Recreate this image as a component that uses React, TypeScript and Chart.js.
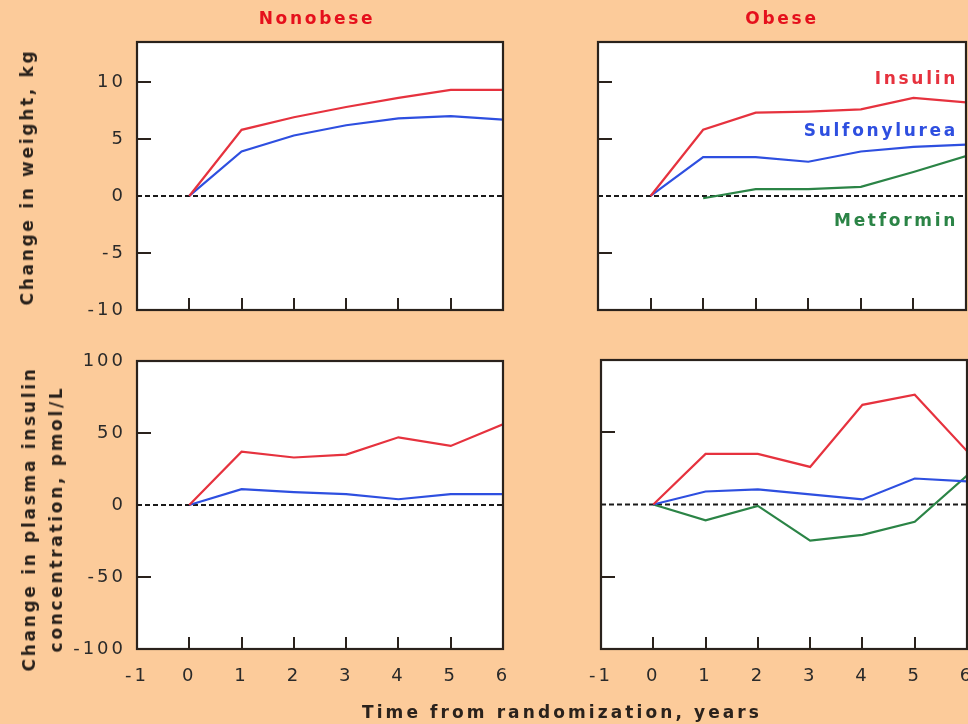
import React, { useEffect, useRef } from "react";
import { Chart, registerables } from "chart.js";
Chart.register(...registerables);

// ---- data ----
const years = [0, 1, 2, 3, 4, 5, 6];
const xTicks = [-1, 0, 1, 2, 3, 4, 5, 6];
const weightTicks = [-10, -5, 0, 5, 10];
const insulinTicks = [-100, -50, 0, 50, 100];

const nonobeseWeightInsulin = [0, 5.8, 6.9, 7.8, 8.6, 9.3, 9.3];
const nonobeseWeightSulfonylurea = [0, 3.9, 5.3, 6.2, 6.8, 7.0, 6.7];
const obeseWeightInsulin = [0, 5.8, 7.3, 7.4, 7.6, 8.6, 8.2];
const obeseWeightSulfonylurea = [0, 3.4, 3.4, 3.0, 3.9, 4.3, 4.5];
const obeseWeightMetformin = [null, -0.2, 0.6, 0.6, 0.8, 2.1, 3.5];

const nonobeseInsulinInsulin = [0, 37, 33, 35, 47, 41, 56];
const nonobeseInsulinSulfonylurea = [0, 11, 9, 7.5, 4, 7.5, 7.5];
const obeseInsulinInsulin = [0, 35, 35, 26, 69, 76, 37];
const obeseInsulinSulfonylurea = [0, 9, 10.5, 7, 3.5, 18, 16];
const obeseInsulinMetformin = [0, -11, -1, -25, -21, -12, 20];

// ---- styles ----
const W = 968;
const H = 724;
const BG = "#fccb9a";
const RED = "#e6323e";
const BLUE = "#2e4fe0";
const GREEN = "#2b8446";
const INK = "#2a221c";

type Panel = {
  area: [number, number, number, number]; // left, top, right, bottom
  yMin: number;
  yMax: number;
  yTicks: number[];
  showY: boolean;
  showX: boolean;
  series: { color: string; values: (number | null)[] }[];
};

const panels: Panel[] = [
  {
    area: [137, 42, 503, 310],
    yMin: -10,
    yMax: 13.5,
    yTicks: weightTicks,
    showY: true,
    showX: false,
    series: [
      { color: RED, values: nonobeseWeightInsulin },
      { color: BLUE, values: nonobeseWeightSulfonylurea },
    ],
  },
  {
    area: [598, 42, 966, 310],
    yMin: -10,
    yMax: 13.5,
    yTicks: weightTicks,
    showY: false,
    showX: false,
    series: [
      { color: RED, values: obeseWeightInsulin },
      { color: BLUE, values: obeseWeightSulfonylurea },
      { color: GREEN, values: obeseWeightMetformin },
    ],
  },
  {
    area: [137, 361, 503, 649],
    yMin: -100,
    yMax: 100,
    yTicks: insulinTicks,
    showY: true,
    showX: true,
    series: [
      { color: RED, values: nonobeseInsulinInsulin },
      { color: BLUE, values: nonobeseInsulinSulfonylurea },
    ],
  },
  {
    area: [601, 360, 967, 649],
    yMin: -100,
    yMax: 100,
    yTicks: insulinTicks,
    showY: false,
    showX: true,
    series: [
      { color: RED, values: obeseInsulinInsulin },
      { color: BLUE, values: obeseInsulinSulfonylurea },
      { color: GREEN, values: obeseInsulinMetformin },
    ],
  },
];

const panelPlugin = {
  id: "panelDecor",
  beforeDraw(chart: any) {
    const { ctx, chartArea: a } = chart;
    ctx.save();
    ctx.fillStyle = "#ffffff";
    ctx.fillRect(a.left, a.top, a.right - a.left, a.bottom - a.top);
    ctx.restore();
    (ctx as any).letterSpacing = "3px";
  },
  afterDraw(chart: any) {
    const { ctx, chartArea: a } = chart;
    const xs = chart.scales.x;
    const ys = chart.scales.y;
    ctx.save();
    (ctx as any).letterSpacing = "0px";
    ctx.strokeStyle = INK;
    ctx.lineWidth = 2;
    ctx.beginPath();
    ys.ticks.forEach((t: any) => {
      if (t.value === ys.min || t.value === ys.max || t.value === 0) return;
      const py = Math.round(ys.getPixelForValue(t.value));
      ctx.moveTo(a.left, py);
      ctx.lineTo(a.left + 14, py);
    });
    xs.ticks.forEach((t: any) => {
      if (t.value === xs.min) return;
      const px = Math.round(xs.getPixelForValue(t.value));
      ctx.moveTo(px, a.bottom);
      ctx.lineTo(px, a.bottom - 12);
    });
    ctx.stroke();
    ctx.lineWidth = 2.2;
    ctx.strokeRect(a.left, a.top, a.right - a.left, a.bottom - a.top);
    ctx.restore();
  },
};

function buildConfig(p: Panel): any {
  const [L, T, R, B] = p.area;
  const yW = p.showY ? 70 : 10;
  const xH = p.showX ? 40 : 10;
  const tickFont = { family: "'DejaVu Sans', sans-serif", size: 18 };
  const datasets: any[] = p.series.map((s) => ({
    data: years
      .map((x, i) => ({ x, y: s.values[i] }))
      .filter((d) => d.y !== null),
    borderColor: s.color,
    borderWidth: 2.2,
    pointRadius: 0,
    tension: 0,
    fill: false,
  }));
  datasets.push({
    data: [
      { x: xTicks[0], y: 0 },
      { x: xTicks[xTicks.length - 1], y: 0 },
    ],
    borderColor: "#1a1a1a",
    borderWidth: 2,
    borderDash: [5, 3],
    pointRadius: 0,
    fill: false,
  });
  const noEdgePad = (s: any) => {
    s.paddingLeft = 0;
    s.paddingRight = 0;
    s.paddingTop = 0;
    s.paddingBottom = 0;
  };
  return {
    type: "line",
    data: { datasets },
    options: {
      animation: false,
      responsive: false,
      maintainAspectRatio: false,
      events: [],
      layout: {
        padding: { left: L - yW, top: T, right: W - R, bottom: H - B - xH },
      },
      plugins: { legend: { display: false }, tooltip: { enabled: false } },
      scales: {
        x: {
          type: "linear",
          min: xTicks[0],
          max: xTicks[xTicks.length - 1],
          afterBuildTicks: (s: any) => {
            s.ticks = xTicks.map((v) => ({ value: v }));
          },
          afterFit: (s: any) => {
            s.height = xH;
            noEdgePad(s);
          },
          grid: { display: false, drawTicks: false },
          border: { display: false },
          ticks: {
            display: p.showX,
            font: tickFont,
            color: "#2a2a2a",
            padding: 17,
            autoSkip: false,
            maxRotation: 0,
          },
        },
        y: {
          type: "linear",
          min: p.yMin,
          max: p.yMax,
          afterBuildTicks: (s: any) => {
            s.ticks = p.yTicks.map((v) => ({ value: v }));
          },
          afterFit: (s: any) => {
            s.width = yW;
            noEdgePad(s);
          },
          grid: { display: false, drawTicks: false },
          border: { display: false },
          ticks: {
            display: p.showY,
            font: tickFont,
            color: "#2a2a2a",
            padding: 11,
          },
        },
      },
    },
    plugins: [panelPlugin],
  };
}

function PanelCanvas({ panel }: { panel: Panel }) {
  const ref = useRef<HTMLCanvasElement | null>(null);
  useEffect(() => {
    if (!ref.current) return;
    const chart = new Chart(ref.current, buildConfig(panel));
    return () => chart.destroy();
  }, [panel]);
  return (
    <canvas
      ref={ref}
      width={W}
      height={H}
      style={{ position: "absolute", left: 0, top: 0, width: W, height: H }}
    />
  );
}

const boldText: React.CSSProperties = {
  position: "absolute",
  fontFamily: "'DejaVu Sans', sans-serif",
  fontWeight: 700,
  fontSize: 17,
  letterSpacing: "2.7px",
  whiteSpace: "nowrap",
  lineHeight: "20px",
};

function Label({
  text,
  x,
  y,
  color,
  align = "center",
  rotate = false,
  extra = {},
}: {
  text: React.ReactNode;
  x: number;
  y: number;
  color: string;
  align?: "center" | "right";
  rotate?: boolean;
  extra?: React.CSSProperties;
}) {
  let transform = "translate(-50%, -50%)";
  if (align === "right") transform = "translate(-100%, -50%)";
  if (rotate) transform = "translate(-50%, -50%) rotate(-90deg)";
  return (
    <div style={{ ...boldText, left: x, top: y, color, transform, ...extra }}>
      {text}
    </div>
  );
}

export default function App() {
  return (
    <div
      style={{
        position: "absolute",
        left: 0,
        top: 0,
        width: W,
        height: H,
        background: BG,
        overflow: "hidden",
      }}
    >
      {panels.map((p, i) => (
        <PanelCanvas key={i} panel={p} />
      ))}
      <Label text="Nonobese" x={317} y={18} color="#e5101c" />
      <Label text="Obese" x={782} y={18} color="#e5101c" />
      <Label text="Insulin" x={958} y={78} color={RED} align="right" />
      <Label text="Sulfonylurea" x={958} y={130} color={BLUE} align="right" />
      <Label text="Metformin" x={958} y={220} color={GREEN} align="right" />
      <Label text="Change in weight, kg" x={27} y={177} color={INK} rotate />
      <Label
        text={
          <>
            Change in plasma insulin
            <br />
            concentration, pmol/L
          </>
        }
        x={43}
        y={519}
        color={INK}
        rotate
        extra={{ lineHeight: "27px", textAlign: "center" }}
      />
      <Label
        text="Time from randomization, years"
        x={562}
        y={712}
        color={INK}
        extra={{ letterSpacing: "3.1px" }}
      />
    </div>
  );
}
